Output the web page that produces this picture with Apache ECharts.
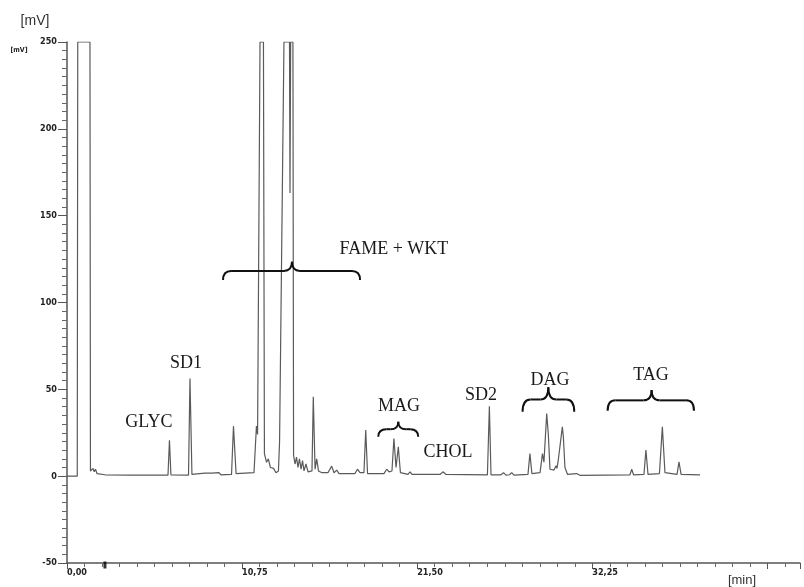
<!DOCTYPE html>
<html><head><meta charset="utf-8">
<script src="https://cdn.jsdelivr.net/npm/echarts@6/dist/echarts.min.js"></script>
<style>html,body{margin:0;padding:0;background:#fff}#c{width:804px;height:587px}</style>
</head><body><div id="c"></div>
<script>
// retention time [min] and detector signal [mV]
const retentionTime = [0,0.63,0.66,1.41,1.44,1.60,1.67,1.75,1.84,2.33,3.87,6.20,6.29,6.38,7.46,7.55,7.67,8.47,8.59,8.90,9.02,9.33,9.45,10.10,10.22,10.38,11.48,11.63,11.70,11.85,12.06,12.12,12.25,12.36,12.49,12.68,12.83,12.98,13.05,13.32,13.66,13.69,13.73,13.87,13.91,14.00,14.09,14.18,14.27,14.37,14.46,14.55,14.67,14.80,15.04,15.12,15.23,15.33,15.44,15.65,16.02,16.25,16.39,16.56,16.70,17.68,17.83,17.99,18.23,18.34,18.45,19.46,19.63,19.77,19.95,20.07,20.20,20.34,20.47,20.93,21.06,21.18,22.90,23.08,23.27,25.81,25.93,26.03,26.64,26.80,26.95,27.17,27.30,27.44,28.30,28.42,28.54,29.04,29.19,29.28,29.45,29.55,29.65,29.90,30.02,30.08,30.17,30.27,30.41,30.47,30.57,30.73,31.29,31.49,34.56,34.67,34.78,35.42,35.54,35.67,36.37,36.55,36.71,37.45,37.57,37.70,38.86];
const signal = [0,0,250,250,3,4.5,2.5,4,1.5,0.8,0.6,0.6,20.7,0.8,0.6,56.3,1.0,1.8,0.8,1.8,0.8,2,0.8,1,28.8,1.5,2,28.8,24,250,250,13,8,10,5,4.5,2,3,20,250,250,163,250,250,12,7,11,5,10,4,9,3,7,2.5,3,45.7,4,10,3,2,2,5.8,2,3.5,1.5,1.5,4,2,2,26.5,1.5,1.5,4,2.5,3,21.7,5,16.9,2,1,2.5,1,1,2.5,1,0.8,40.3,0.8,0.8,2,0.6,0.8,2,0.6,1,13,1.5,2,13,8,36,24,4,3.5,6,4.5,10,10,28.4,23,5,1,1.5,0.5,0.8,4,0.8,1,15,1,1.5,28.4,2,1,8.2,1,0.8];

// axis ticks
const xTickInterval = 10.75;
const yTickValues = [-50, 0, 50, 100, 150, 200, 250];

// injection marker on the time axis
const injectionTime = [2.33];

// peak group annotations
const peakLabels = ['GLYC', 'SD1', 'FAME + WKT', 'MAG', 'CHOL', 'SD2', 'DAG', 'TAG'];
const labelTime = [5.03, 7.31, 20.07, 20.38, 23.39, 25.42, 29.65, 35.85];
const labelSignal = [30.9, 65.2, 130.8, 40.0, 13.6, 46.8, 55.4, 58.2];
const braceStart = [9.58, 19.11, 27.97, 33.19];
const braceEnd = [17.99, 21.56, 31.14, 38.49];
const braceTip = [13.81, 20.34, 29.55, 35.89];
const braceBase = [113.0, 22.7, 37.1, 37.7];
const braceTop = [123.4, 31.4, 51.2, 49.6];

const trace = retentionTime.map((t, i) => [t, signal[i]]);
const chart = echarts.init(document.getElementById('c'), null, {renderer: 'canvas'});
const axisFont = {fontFamily: 'DejaVu Sans Condensed', fontWeight: 'bold', fontSize: 9, color: '#222'};

chart.setOption({
  animation: false,
  backgroundColor: '#fff',
  grid: {left: 67, right: 4, top: 42, bottom: 24},
  xAxis: {
    type: 'value', min: 0, max: 45, interval: xTickInterval,
    axisLine: {onZero: false, lineStyle: {color: '#555', width: 1.5}},
    axisTick: {length: 6, lineStyle: {color: '#555'}},
    minorTick: {show: true, splitNumber: 10, length: 4, lineStyle: {color: '#666'}},
    splitLine: {show: false},
    axisLabel: Object.assign({}, axisFont, {
      align: 'left', margin: 5, showMaxLabel: false,
      formatter: v => v > 40 ? '' : v.toFixed(2).replace('.', ',')
    })
  },
  yAxis: {
    type: 'value', min: yTickValues[0], max: yTickValues[yTickValues.length - 1], interval: 50,
    axisLine: {show: true, lineStyle: {color: '#555', width: 1.5}},
    axisTick: {length: 9, lineStyle: {color: '#555'}},
    minorTick: {show: true, splitNumber: 10, length: 5, lineStyle: {color: '#666'}},
    splitLine: {show: false},
    axisLabel: Object.assign({}, axisFont, {margin: 10})
  },
  series: [
    {
      type: 'line', data: trace, showSymbol: false, symbol: 'none',
      lineStyle: {color: '#5a5a5a', width: 1.2}, z: 3
    },
    {
      type: 'scatter', data: injectionTime.map(t => [t, yTickValues[0]]),
      symbol: 'rect', symbolSize: [3, 7], symbolOffset: [0, 2],
      itemStyle: {color: '#000'}, z: 4, silent: true
    }
  ]
});

const px = (t, v) => chart.convertToPixel({gridIndex: 0}, [t, v]);
const graphics = [];
peakLabels.forEach((txt, i) => {
  const p = px(labelTime[i], labelSignal[i]);
  graphics.push({
    type: 'text', x: p[0], y: p[1], z: 10,
    style: {text: txt, font: '18px "Liberation Serif"', fill: '#1a1a1a', align: 'center', verticalAlign: 'middle'}
  });
});
const braceStyle = {stroke: '#111', lineWidth: 2, fill: null};
const curve = (x1, y1, cx, cy, x2, y2) => ({
  type: 'bezierCurve', z: 10, silent: true,
  shape: {x1: x1, y1: y1, x2: x2, y2: y2, cpx1: cx, cpy1: cy},
  style: braceStyle
});
const seg = (x1, y1, x2, y2) => ({
  type: 'line', z: 10, silent: true,
  shape: {x1: x1, y1: y1, x2: x2, y2: y2},
  style: braceStyle
});
braceStart.forEach((s, i) => {
  const a = px(s, braceBase[i]);
  const b = px(braceEnd[i], braceBase[i]);
  const tip = px(braceTip[i], braceTop[i]);
  const xl = a[0], xr = b[0], ye = a[1], xt = tip[0], yt = tip[1];
  const ym = (ye + yt) / 2;
  const r = Math.min(8, (xr - xl) / 5);
  graphics.push(
    curve(xl, ye, xl, ym, xl + r, ym),
    seg(xl + r, ym, xt - r, ym),
    curve(xt - r, ym, xt, ym, xt, yt),
    curve(xt, yt, xt, ym, xt + r, ym),
    seg(xt + r, ym, xr - r, ym),
    curve(xr - r, ym, xr, ym, xr, ye)
  );
});
graphics.push(
  {type: 'text', x: 35, y: 21, style: {text: '[mV]', font: '14px "Liberation Sans"', fill: '#333', align: 'center', verticalAlign: 'middle'}},
  {type: 'text', x: 19, y: 50, style: {text: '[mV]', font: 'bold 7px "DejaVu Sans Condensed"', fill: '#222', align: 'center', verticalAlign: 'middle'}},
  {type: 'text', x: 742, y: 580, style: {text: '[min]', font: '13px "Liberation Sans"', fill: '#333', align: 'center', verticalAlign: 'middle'}}
);
chart.setOption({graphic: graphics});
</script>
</body></html>
